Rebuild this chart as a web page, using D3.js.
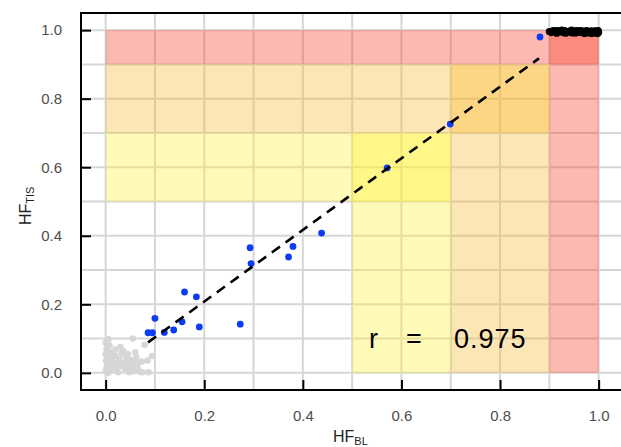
<!DOCTYPE html>
<html><head><meta charset="utf-8">
<script src="https://cdn.jsdelivr.net/npm/d3@7"></script>
<style>body{margin:0;background:#fff}svg{display:block;font-family:"Liberation Sans",Arial,sans-serif}</style>
</head><body><svg id="c" width="621" height="447"></svg>
<script>
// Data
const xTicks = [0, 0.2, 0.4, 0.6, 0.8, 1.0];
const yTicks = [0, 0.2, 0.4, 0.6, 0.8, 1.0];
const gridVals = [0,0.1,0.2,0.3,0.4,0.5,0.6,0.7,0.8,0.9,1.0];
const greyX = [0.000,0.002,0.000,0.003,0.001,0.004,0.002,0.000,0.005,0.010,0.012,0.015,0.010,0.018,0.020,0.022,0.025,0.028,0.030,0.033,0.036,0.038,0.040,0.042,0.045,0.048,0.050,0.052,0.055,0.055,0.058,0.060,0.062,0.065,0.068,0.070,0.073,0.075,0.079,0.085,0.087,0.094,0.030,0.020,0.008,0.045,0.060,0.006,0.014,0.026];
const greyY = [0.088,0.070,0.055,0.045,0.035,0.025,0.015,0.005,0.000,0.060,0.040,0.020,0.008,0.030,0.050,0.012,0.002,0.040,0.020,0.058,0.063,0.030,0.010,0.045,0.025,0.002,0.038,0.015,0.031,0.100,0.005,0.022,0.045,0.012,0.030,0.003,0.033,0.002,0.082,0.036,0.002,0.049,0.075,0.068,0.080,0.055,0.060,0.098,0.052,0.028];
const blueX = [0.881,0.699,0.571,0.438,0.380,0.371,0.293,0.295,0.160,0.184,0.100,0.086,0.095,0.119,0.138,0.155,0.190,0.273];
const blueY = [0.980,0.726,0.598,0.408,0.369,0.338,0.365,0.319,0.236,0.222,0.159,0.117,0.117,0.118,0.125,0.149,0.134,0.142];
const blackX = [0.900,0.904,0.908,0.912,0.915,0.919,0.923,0.927,0.931,0.935,0.939,0.943,0.947,0.951,0.955,0.958,0.962,0.966,0.969,0.973,0.976,0.979,0.982,0.985,0.988,0.991,0.993,0.996,0.998,1.000,0.999,0.994,0.986,0.971,0.953,0.933,0.914,0.925,0.945,0.962];
const blackY = [0.996,0.993,0.999,0.995,0.991,0.998,0.996,0.993,0.999,0.996,0.994,0.998,0.992,0.997,0.999,0.995,0.993,0.998,0.994,0.997,0.999,0.992,0.996,0.998,0.994,0.997,0.992,0.996,0.990,0.994,0.999,0.998,0.990,0.990,0.992,0.991,0.999,1.000,1.000,0.999];
const fitX = [0.086, 0.879];
const fitSlope = 1.045, fitIntercept = -0.001;
const rLabel = ["r", "=", "0.975"];
// Risk zones (L-shaped bands, each as two overlapping rectangles)
const zoneX0 = [0, 0.9, 0, 0.7, 0, 0.5];
const zoneX1 = [1.0, 1.0, 0.9, 0.9, 0.7, 0.7];
const zoneY0 = [0.9, 0, 0.7, 0, 0.5, 0];
const zoneY1 = [1.0, 1.0, 0.9, 0.9, 0.7, 0.7];
const zoneCol = ["rgb(246,55,32)","rgb(246,55,32)","rgb(250,182,42)","rgb(250,182,42)","rgb(255,242,50)","rgb(255,242,50)"];

const svg = d3.select("#c");
const x = d3.scaleLinear().domain([-0.05, 1.05]).range([81, 623.3]);
const y = d3.scaleLinear().domain([-0.05, 1.05]).range([390, 13]);

// grid
svg.append("g").selectAll("line").data(gridVals).join("line")
  .attr("x1", d => x(d)).attr("x2", d => x(d)).attr("y1", y(-0.05)).attr("y2", y(1.05))
  .attr("stroke", "#d6d6d6").attr("stroke-width", 2);
svg.append("g").selectAll("line").data(gridVals).join("line")
  .attr("y1", d => y(d)).attr("y2", d => y(d)).attr("x1", x(-0.05)).attr("x2", x(1.05))
  .attr("stroke", "#d6d6d6").attr("stroke-width", 2);

// zones
svg.append("g").selectAll("rect").data(zoneX0).join("rect")
  .attr("x", (d,i) => x(zoneX0[i])).attr("width", (d,i) => x(zoneX1[i]) - x(zoneX0[i]))
  .attr("y", (d,i) => y(zoneY1[i])).attr("height", (d,i) => y(zoneY0[i]) - y(zoneY1[i]))
  .attr("fill", (d,i) => zoneCol[i]).attr("fill-opacity", 0.35);

// points
const pts = svg.append("g");
pts.selectAll("circle.g").data(greyX).join("circle").attr("class","g")
  .attr("cx", (d,i) => x(greyX[i])).attr("cy", (d,i) => y(greyY[i])).attr("r", 3.3).attr("fill", "#d6d6d6");
pts.selectAll("circle.k").data(blackX).join("circle").attr("class","k")
  .attr("cx", (d,i) => x(blackX[i])).attr("cy", (d,i) => y(blackY[i])).attr("r", 3.6).attr("fill", "#000");
pts.selectAll("circle.b").data(blueX).join("circle").attr("class","b")
  .attr("cx", (d,i) => x(blueX[i])).attr("cy", (d,i) => y(blueY[i])).attr("r", 3.4).attr("fill", "#0b3bf5");

// fit line
svg.append("line")
  .attr("x1", x(fitX[0])).attr("y1", y(fitSlope*fitX[0]+fitIntercept))
  .attr("x2", x(fitX[1])).attr("y2", y(fitSlope*fitX[1]+fitIntercept))
  .attr("stroke", "#000").attr("stroke-width", 2.6).attr("stroke-dasharray", "10,7");

// frame
svg.append("rect").attr("x", x(-0.05)).attr("y", y(1.05))
  .attr("width", x(1.05)-x(-0.05)).attr("height", y(-0.05)-y(1.05))
  .attr("fill", "none").attr("stroke", "#000").attr("stroke-width", 2);

// axes
const ax = svg.append("g").attr("transform", `translate(0,${y(-0.05)})`)
  .call(d3.axisBottom(x).tickValues(xTicks).tickFormat(d3.format(".1f")).tickSize(-10).tickPadding(20));
const ay = svg.append("g").attr("transform", `translate(${x(-0.05)},0)`)
  .call(d3.axisLeft(y).tickValues(yTicks).tickFormat(d3.format(".1f")).tickSize(-10).tickPadding(19));
[ax, ay].forEach(g => {
  g.select(".domain").remove();
  g.selectAll(".tick line").attr("stroke", "#000").attr("stroke-width", 2);
  g.selectAll(".tick text").attr("fill", "#4d4d4d").style("font-size", "15px").style("font-family", "Liberation Sans, Arial, sans-serif");
});

// r label
const rl = svg.append("g").style("font-size", "27px").attr("fill", "#000");
rl.append("text").attr("x", 369).attr("y", 348).text(rLabel[0]);
rl.append("text").attr("x", 406).attr("y", 348).text(rLabel[1]);
rl.append("text").attr("x", 454).attr("y", 348).style("letter-spacing", "1px").text(rLabel[2]);

// axis titles
const xt = svg.append("text").attr("x", 333).attr("y", 442).style("font-size", "16px").attr("fill", "#222");
xt.append("tspan").text("HF");
xt.append("tspan").attr("dy", 3).style("font-size", "11px").text("BL");
const yt = svg.append("text").attr("transform", "translate(31,225) rotate(-90)").style("font-size", "16px").attr("fill", "#222");
yt.append("tspan").text("HF");
yt.append("tspan").attr("dy", 3).style("font-size", "11px").text("TIS");
</script></body></html>
